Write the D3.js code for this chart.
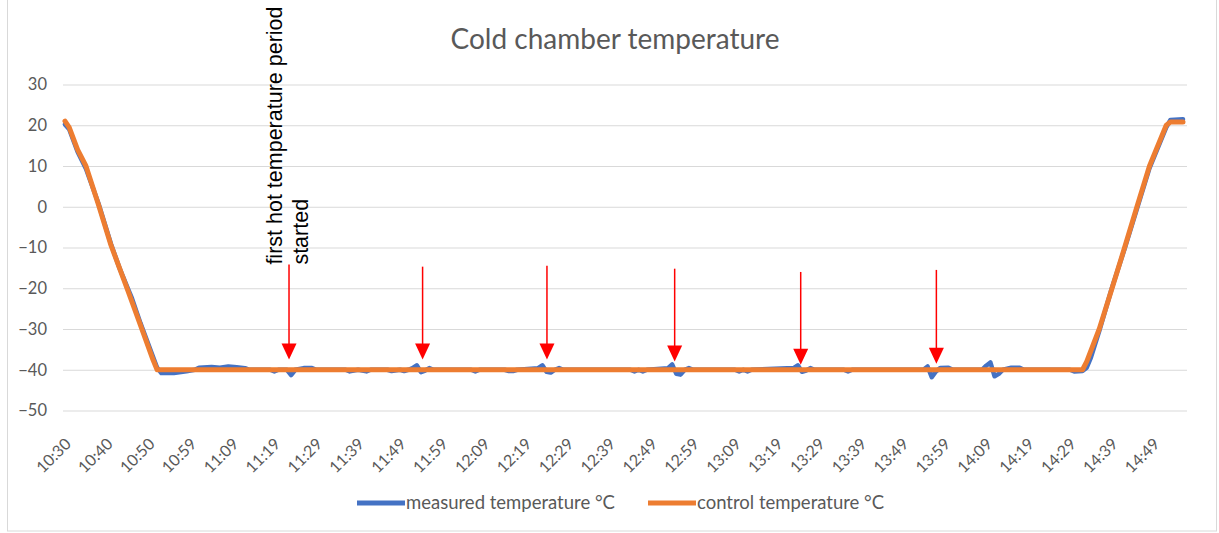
<!DOCTYPE html>
<html>
<head>
<meta charset="utf-8">
<script src="https://cdnjs.cloudflare.com/ajax/libs/d3/7.8.5/d3.min.js"></script>
<style>
    body { margin: 0; background: #fff; }
    svg { display: block; }
    text { font-family: Lato, "Open Sans", sans-serif; }
</style>
</head>
<body>
<div id="chart"></div>
<script>
// 1. Data (index = sample number on the category axis, value = °C)

var tickLabels = ["10:30", "10:40", "10:50", "10:59", "11:09", "11:19", "11:29", "11:39", "11:49",
    "11:59", "12:09", "12:19", "12:29", "12:39", "12:49", "12:59", "13:09", "13:19", "13:29",
    "13:39", "13:49", "13:59", "14:09", "14:19", "14:29", "14:39", "14:49"];

var yTicks = [30, 20, 10, 0, -10, -20, -30, -40, -50];

var measuredIdx = [0, 1, 3, 5, 8, 11, 13, 14, 15, 16, 18, 20, 22, 23, 26, 29, 31, 32, 35, 37, 39, 41, 43, 44,
    49, 50, 51, 53, 54, 55, 57, 59, 60, 67, 68, 70, 72, 73, 77, 78, 80, 81, 82, 83, 84, 85, 86, 87, 88,
    97, 98, 99, 105, 106, 107, 108, 113, 114, 115, 116, 117, 118, 119, 135, 136, 137, 138, 139,
    144, 145, 146, 147, 148, 149, 150, 160, 161, 162, 163, 164, 174, 175, 176, 177, 178, 179,
    186, 187, 188, 205, 206, 207, 208, 209, 211, 212, 219, 220, 221, 222, 223, 224, 226, 228, 229,
    240, 241, 243, 244, 245, 247, 250, 253, 256, 259, 263, 264, 267];
var measuredVal = [20.2, 19, 13.5, 9.3, 0.8, -9.2, -15, -17.5, -20, -22.5, -28.5, -34, -39.5, -40.8, -40.8, -40.4, -40, -39.5, -39.3, -39.5, -39.2, -39.4, -39.6, -40,
    -40, -40.4, -40, -40, -41.3, -40, -39.6, -39.6, -40, -40, -40.4, -40, -40.4, -40, -40, -40.3, -40, -40.3, -40, -39.6, -38.9, -40.6, -40.2, -39.6, -40,
    -40, -40.4, -40, -40, -40.3, -40.3, -40, -39.6, -38.9, -40.5, -40.7, -40, -39.6, -40, -40, -40.4, -40, -40.4, -40,
    -39.6, -38.7, -41, -41.2, -40, -39.6, -40, -40, -40.4, -40, -40.4, -40, -39.6, -38.9, -40.5, -40.2, -39.6, -40,
    -40, -40.4, -40, -40, -39.2, -41.8, -40.4, -39.6, -39.5, -40, -40, -39, -38.2, -41.6, -41, -40, -39.5, -39.5, -40,
    -40, -40.4, -40.3, -39.5, -37, -30.5, -20, -10.5, -0.5, 9.5, 19.5, 21.3, 21.5];

var controlIdx = [0, 1, 3, 5, 8, 11, 15, 18, 21, 22, 243, 244, 247, 250, 253, 256, 259, 263, 264, 267];
var controlVal = [21, 19.5, 14, 10, 0.5, -9.5, -20.5, -29, -37.5, -40, -40, -38, -30, -20.2, -10.2, 0, 10, 20, 20.8, 20.8];

var arrowIdx = [53.5, 85.4, 115.1, 145.6, 175.7, 208.1];
var arrowTop = [-14.2, -14.7, -14.5, -15.2, -16, -15.5];
var arrowTip = [-37.5, -37.5, -37.5, -38, -38.8, -38.5];

var seriesNames = ["measured temperature °C", "control temperature °C"];

// 2. Miscellaneous variables

var width = 1219, height = 533;
var colours = { measured: "#4472C4", control: "#ED7D31" };
var textGrey = "#595959";

var svg = d3.select("#chart")
    .append("svg")
    .attr("width", width)
    .attr("height", height);

svg.append("rect")
    .attr("x", 7.5).attr("y", -1)
    .attr("width", 1209).attr("height", 532)
    .attr("fill", "none")
    .attr("stroke", "#D9D9D9");

var x = d3.scaleLinear().domain([0, 267]).range([65, 1183]);
var y = d3.scaleLinear().domain([-50, 30]).range([410.5, 84.5]);

// 3. Title, grid and axes

svg.append("text")
    .attr("x", 615).attr("y", 49)
    .attr("text-anchor", "middle")
    .attr("fill", textGrey)
    .style("font-size", "28px")
    .text("Cold chamber temperature");

var yAxis = svg.append("g")
    .attr("transform", "translate(63,0)")
    .call(d3.axisLeft(y).tickValues(yTicks).tickSize(-1124).tickPadding(16))

yAxis.select(".domain").remove();
yAxis.selectAll(".tick line").attr("stroke", "#D9D9D9");
yAxis.selectAll(".tick text")
    .attr("fill", textGrey)
    .style("font-size", "16.5px")
    .style("font-family", "Lato, sans-serif");

svg.append("g")
    .selectAll("text")
    .data(tickLabels)
    .enter()
    .append("text")
    .attr("text-anchor", "end")
    .attr("transform", function (d, i) { return "translate(" + (x(i * 10) + 7) + ",445) rotate(-45)" })
    .attr("fill", textGrey)
    .style("font-size", "16px")
    .text(function (d) { return d });

// 4. Lines

function pairs(idx, val) {
    return idx.map(function (d, i) { return [d, val[i]] });
}

var line = d3.line()
    .x(function (d) { return x(d[0]) })
    .y(function (d) { return y(d[1]) });

svg.append("path")
    .datum(pairs(measuredIdx, measuredVal))
    .attr("d", line)
    .attr("fill", "none")
    .attr("stroke", colours.measured)
    .attr("stroke-width", 4.5)
    .attr("stroke-linejoin", "round")
    .attr("stroke-linecap", "round");

svg.append("path")
    .datum(pairs(controlIdx, controlVal))
    .attr("d", line)
    .attr("fill", "none")
    .attr("stroke", colours.control)
    .attr("stroke-width", 5)
    .attr("stroke-linejoin", "round")
    .attr("stroke-linecap", "round");

// 5. Arrows + annotation

var arrows = svg.append("g")
    .selectAll("g")
    .data(arrowIdx)
    .enter()
    .append("g");

arrows.append("line")
    .attr("x1", function (d) { return x(d) })
    .attr("x2", function (d) { return x(d) })
    .attr("y1", function (d, i) { return y(arrowTop[i]) })
    .attr("y2", function (d, i) { return y(arrowTip[i]) - 14 })
    .attr("stroke", "#FF0000")
    .attr("stroke-width", 1.5);

arrows.append("path")
    .attr("d", function (d, i) {
        var px = x(d), py = y(arrowTip[i]);
        return "M" + (px - 7.5) + "," + (py - 16) + "L" + (px + 7.5) + "," + (py - 16) + "L" + px + "," + py + "Z";
    })
    .attr("fill", "#FF0000");

var note = svg.append("text")
    .attr("transform", "translate(" + x(arrowIdx[0]) + "," + y(arrowTop[0]) + ") rotate(-90)")
    .attr("fill", "#000")
    .style("font-family", "'Liberation Sans', Arial, sans-serif")
    .style("font-size", "21.5px");

note.append("tspan").attr("x", 0).attr("y", -7).text("first hot temperature period");
note.append("tspan").attr("x", 0).attr("y", 19).text("started");

// 6. Legend

var legendX = [357, 648];
var legend = svg.append("g")
    .selectAll("g")
    .data(seriesNames)
    .enter()
    .append("g")
    .attr("transform", function (d, i) { return "translate(" + legendX[i] + ",503)" });

legend.append("line")
    .attr("x1", 0).attr("x2", 48)
    .attr("stroke", function (d, i) { return i == 0 ? colours.measured : colours.control })
    .attr("stroke-width", 5);

legend.append("text")
    .attr("x", 49).attr("y", 6)
    .attr("fill", textGrey)
    .style("font-size", "18.5px")
    .text(function (d) { return d });
</script>
</body>
</html>
